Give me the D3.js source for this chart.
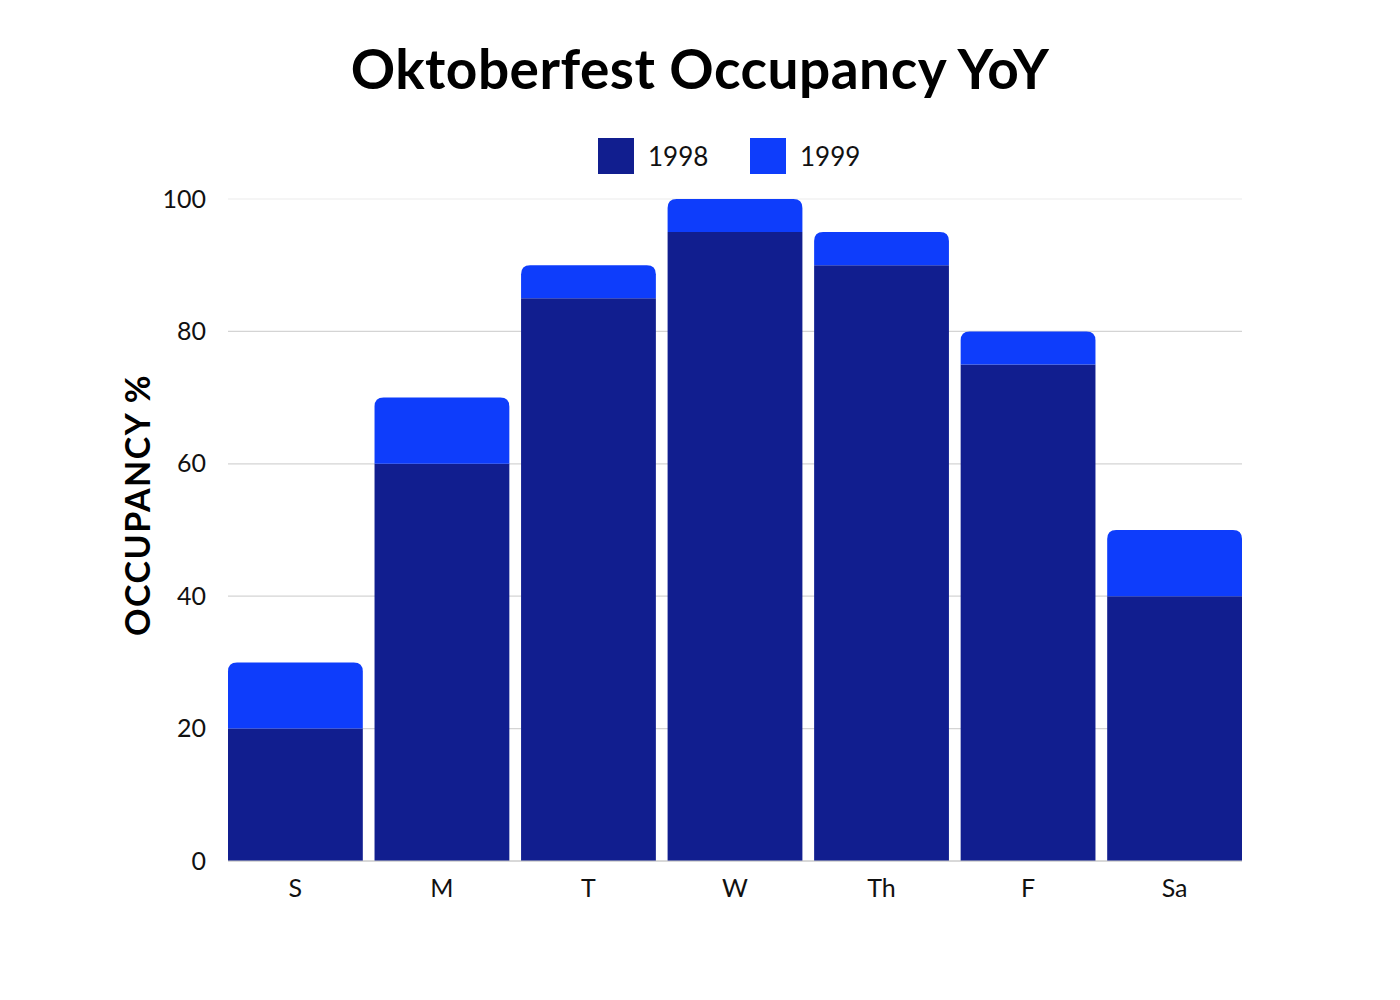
<!DOCTYPE html>
<html>
<head>
<meta charset="utf-8">
<script src="https://cdn.jsdelivr.net/npm/d3@7"></script>
<style>
  body { margin: 0; background: #fff; }
  text { font-family: Lato, "Open Sans", sans-serif; }
</style>
</head>
<body>
<div id="chart"></div>
<script>
// chart data
const days = ["S", "M", "T", "W", "Th", "F", "Sa"];
const occ1998 = [20, 60, 85, 95, 90, 75, 40];
const occ1999 = [10, 10, 5, 5, 5, 5, 10];
const yTicks = [0, 20, 40, 60, 80, 100];
const seriesNames = ["1998", "1999"];
const seriesColors = ["#111E8F", "#0E3DFB"];

const width = 1400, height = 1000;
const margin = { top: 199, right: 158, bottom: 139, left: 228 };

const svg = d3.select("#chart")
    .append("svg")
    .attr("width", width)
    .attr("height", height);

// title
svg.append("text")
    .attr("x", 700)
    .attr("y", 89)
    .attr("text-anchor", "middle")
    .style("font-size", "55px")
    .style("font-weight", "bold")
    .style("letter-spacing", "0.5px")
    .text("Oktoberfest Occupancy YoY");

const x = d3.scaleBand()
    .domain(days)
    .range([margin.left, width - margin.right])
    .paddingInner(0.08)
    .paddingOuter(0);

const y = d3.scaleLinear()
    .domain([0, 100])
    .range([height - margin.bottom, margin.top]);

// gridlines
svg.append("g")
    .selectAll("line")
    .data(yTicks)
    .join("line")
    .attr("x1", margin.left)
    .attr("x2", width - margin.right)
    .attr("y1", d => y(d))
    .attr("y2", d => y(d))
    .attr("stroke", d => d === 100 ? "#ececec" : "#d4d4d4")
    .attr("stroke-width", 1.2);

// y axis labels
const yAxis = d3.axisLeft(y).tickValues(yTicks).tickSize(0).tickPadding(22);
svg.append("g")
    .attr("transform", `translate(${margin.left},0)`)
    .call(yAxis)
    .call(g => g.select(".domain").remove())
    .call(g => g.selectAll("text")
        .style("font-size", "25px")
        .style("font-family", "Lato, sans-serif")
        .attr("fill", "#111"));

// stacked data
const rows = days.map((d, i) => ({ day: d, "1998": occ1998[i], "1999": occ1999[i] }));
const stacked = d3.stack().keys(seriesNames)(rows);

// rounded top only path
function barPath(x0, y0, w, h, r) {
    r = Math.min(r, h, w / 2);
    if (r <= 0) return `M${x0},${y0}h${w}v${h}h${-w}Z`;
    return `M${x0},${y0 + h}V${y0 + r}Q${x0},${y0} ${x0 + r},${y0}H${x0 + w - r}Q${x0 + w},${y0} ${x0 + w},${y0 + r}V${y0 + h}Z`;
}

stacked.forEach((layer, li) => {
    const isTop = li === stacked.length - 1;
    svg.append("g")
        .selectAll("path")
        .data(layer)
        .join("path")
        .attr("d", d => {
            const x0 = x(d.data.day);
            const yTop = y(d[1]);
            const h = y(d[0]) - y(d[1]);
            return barPath(x0, yTop, x.bandwidth(), h, isTop ? 9 : 0);
        })
        .attr("fill", seriesColors[li]);
});

// baseline
svg.append("line")
    .attr("x1", margin.left)
    .attr("x2", width - margin.right)
    .attr("y1", y(0))
    .attr("y2", y(0))
    .attr("stroke", "#c8c8c8")
    .attr("stroke-width", 1);

// x axis labels
const xAxis = d3.axisBottom(x).tickSize(0).tickPadding(18);
svg.append("g")
    .attr("transform", `translate(0,${y(0)})`)
    .call(xAxis)
    .call(g => g.select(".domain").remove())
    .call(g => g.selectAll("text")
        .style("font-size", "25px")
        .style("font-family", "Lato, sans-serif")
        .attr("fill", "#111"));

// y axis title
svg.append("text")
    .attr("transform", `translate(150, 505) rotate(-90)`)
    .attr("text-anchor", "middle")
    .style("font-size", "34px")
    .style("font-weight", "bold")
    .style("letter-spacing", "1.5px")
    .text("OCCUPANCY %");

// legend
const legendX = [598, 750];
const legend = svg.append("g");
seriesNames.forEach((name, i) => {
    legend.append("rect")
        .attr("x", legendX[i])
        .attr("y", 138)
        .attr("width", 36)
        .attr("height", 36)
        .attr("fill", seriesColors[i]);
    legend.append("text")
        .attr("x", legendX[i] + 50)
        .attr("y", 166)
        .style("font-size", "26px")
        .attr("fill", "#111")
        .text(name);
});
</script>
</body>
</html>
